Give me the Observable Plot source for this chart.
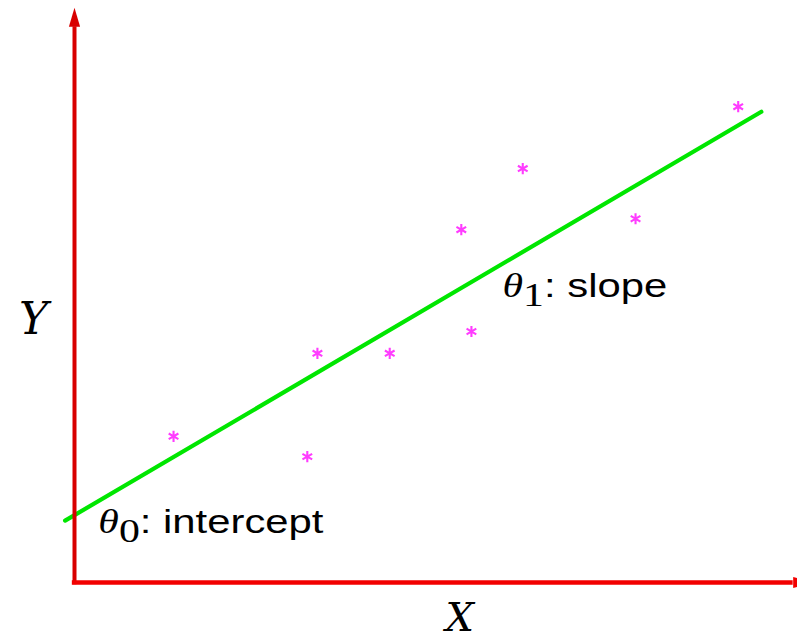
<!DOCTYPE html>
<html>
<head>
<meta charset="utf-8">
<script src="https://cdn.jsdelivr.net/npm/d3@7"></script>
<script src="https://cdn.jsdelivr.net/npm/@observablehq/plot@0.6"></script>
<style>
  html, body { margin: 0; padding: 0; background: #fff; overflow: hidden; }
  #chart svg { display: block; overflow: hidden; }
</style>
</head>
<body>
<div id="chart"></div>
<script>
// Observed samples (x, y)
const sampleX = [1.37, 3.22, 3.36, 4.36, 5.35, 5.49, 6.20, 7.76, 9.18];
const sampleY = [2.01, 1.73, 3.15, 3.15, 4.85, 3.45, 5.69, 5.00, 6.54];

// Fitted line y = θ0 + θ1·x, drawn between its two end points
const fitX = [-0.13, 9.50];
const fitY = [0.85, 6.47];

// Axis names and parameter annotations
const axisNames = ["X", "Y"];
const paramLabels = ["θ0: intercept", "θ1: slope"];

const samples = sampleX.map((x, i) => ({x, y: sampleY[i]}));
const fit = fitX.map((x, i) => ({x, y: fitY[i]}));

// Filled triangular arrow head pointing up; rotated for the horizontal axis
const arrowHead = {
  draw(ctx) {
    ctx.moveTo(0, -19);
    ctx.lineTo(5.6, 0);
    ctx.lineTo(-5.6, 0);
    ctx.closePath();
  }
};

const plot = Plot.plot({
  width: 797,
  height: 641,
  marginLeft: 74,
  marginRight: 0,
  marginTop: 0,
  marginBottom: 59,
  style: {background: "white"},
  x: {domain: [0, 10], axis: null},
  y: {domain: [0, 8], axis: null},
  marks: [
    Plot.line(fit, {x: "x", y: "y", stroke: "#00e600", strokeWidth: 4.2}),
    Plot.dot(samples, {x: "x", y: "y", symbol: "asterisk", r: 5.3, stroke: "#ff3cff", strokeWidth: 2.1}),
    // axes
    Plot.ruleX([0], {y1: -0.03, y2: 7.64, stroke: "#d80000", strokeWidth: 4}),
    Plot.ruleY([0], {x1: -0.03, x2: 9.94, stroke: "#f20000", strokeWidth: 4.5}),
    Plot.dot([0], {x: 0, y: 7.64, symbol: arrowHead, fill: "#d80000", stroke: "none"}),
    Plot.dot([0], {x: 9.94, y: 0, symbol: arrowHead, rotate: 90, fill: "#f20000", stroke: "none"}),
    // axis names
    Plot.text([axisNames[0]], {x: 5.33, y: -0.66, text: d => d, textAnchor: "middle",
      fontFamily: "DejaVu Serif", fontStyle: "italic", fontSize: 40, fill: "black"}),
    Plot.text([axisNames[1]], {x: -0.567, y: 3.42, text: d => d, textAnchor: "middle",
      fontFamily: "DejaVu Serif", fontStyle: "italic", fontSize: 44, fill: "black"}),
    // parameter annotations
    Plot.text([paramLabels[0]], {x: 0.33, y: 0.674, text: d => d, textAnchor: "start",
      fontFamily: "Liberation Sans", fontSize: 34, fill: "black"}),
    Plot.text([paramLabels[1]], {x: 5.92, y: 3.92, text: d => d, textAnchor: "start",
      fontFamily: "Liberation Sans", fontSize: 34, fill: "black"})
  ]
});

document.getElementById("chart").appendChild(plot);

// Put text anchors on the baseline
function anchorOnBaseline(el) {
  const t = d3.select(el);
  if (!t.attr("transform")) {
    const x = +t.attr("x") || 0, y = +t.attr("y") || 0;
    t.attr("transform", `translate(${x},${y})`).attr("x", null);
  }
  t.attr("y", null).attr("dy", null);
  return t;
}

const svg = d3.select(plot);
svg.selectAll("text")
  .filter(function () { return axisNames.includes(this.textContent); })
  .each(function () { anchorOnBaseline(this); });

// θ in italic serif with a lowered index digit, then the description in sans
svg.selectAll("text")
  .filter(function () { return paramLabels.includes(this.textContent); })
  .each(function () {
    const t = anchorOnBaseline(this);
    const s = this.textContent;
    t.text(null);
    t.append("tspan").attr("font-family", "Liberation Serif").attr("font-style", "italic").text(s[0]);
    t.append("tspan").attr("font-family", "Liberation Serif").attr("dy", 9).text(s[1]);
    t.append("tspan").attr("dy", -9).text(s.slice(2));
    t.attr("transform", t.attr("transform") + " scale(1.23,1)");
  });
</script>
</body>
</html>
